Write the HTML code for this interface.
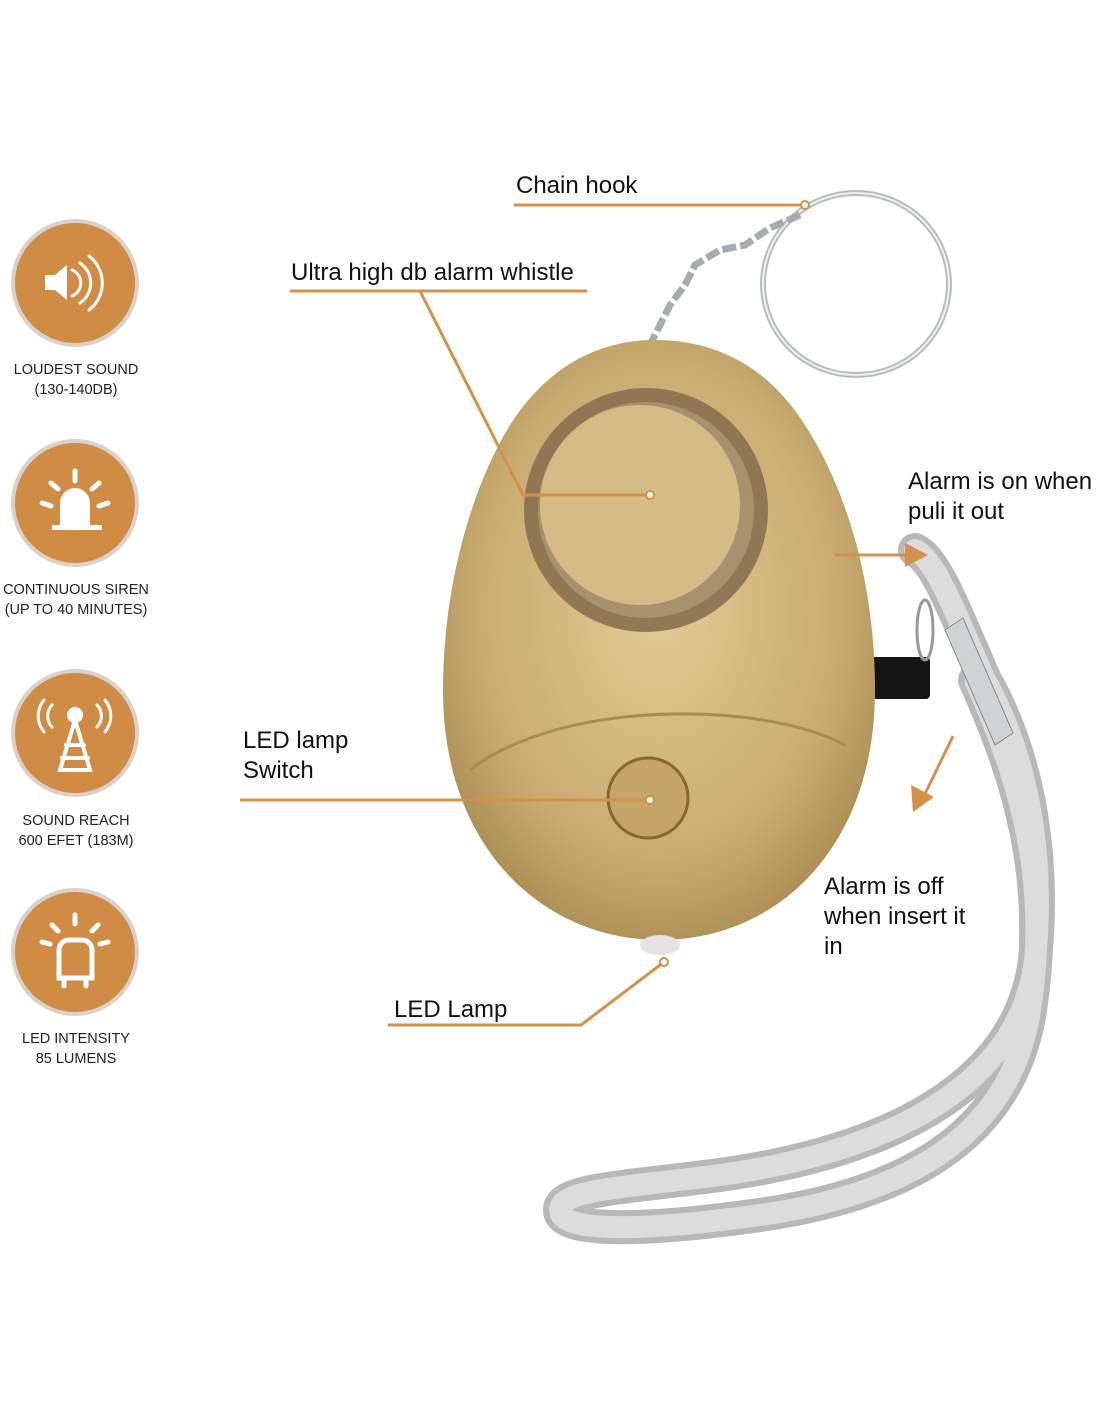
<!DOCTYPE html>
<html><head><meta charset="utf-8"><style>
html,body{margin:0;padding:0;background:#fff}
svg{display:block}
text{font-family:"Liberation Sans",sans-serif}
</style></head><body>
<svg width="1100" height="1422" viewBox="0 0 1100 1422">
<defs>
<radialGradient id="egg" cx="0.5" cy="0.45" r="0.6">
<stop offset="0" stop-color="#e2cc95"/><stop offset="0.7" stop-color="#c8ab70"/><stop offset="1" stop-color="#a88a50"/>
</radialGradient>
</defs>
<g fill="#d08b45" stroke="#d9d2cb" stroke-width="4">
<circle cx="75" cy="283" r="62"/><circle cx="75" cy="503" r="62"/><circle cx="75" cy="733" r="62"/><circle cx="75" cy="952" r="62"/>
</g>
<g fill="#fff" stroke="#fff" stroke-linecap="round">
<path d="M45 275h10l12-10v35l-12-10h-10z" stroke="none"/>
<path d="M72 270a14 14 0 0 1 0 26" fill="none" stroke-width="3"/>
<path d="M80 263a24 24 0 0 1 0 40" fill="none" stroke-width="3"/>
<path d="M89 256a34 34 0 0 1 0 54" fill="none" stroke-width="3"/>
<path d="M60 525v-22a15 15 0 0 1 30 0v22z" stroke="none"/>
<rect x="52" y="525" width="50" height="5" stroke="none"/>
<g stroke-width="5"><path d="M75 471v10M51 483l7 6M99 483l-7 6M42 503l9 3M108 503l-9 3"/></g>
<circle cx="75" cy="715" r="8" stroke="none"/>
<path d="M75 720L60 770h30z" fill="none" stroke-width="4"/>
<path d="M66 745h18M62 758h26" stroke-width="4"/>
<path d="M52 705a16 16 0 0 0 0 22M97 705a16 16 0 0 1 0 22M44 700a25 25 0 0 0 0 32M105 700a25 25 0 0 1 0 32" fill="none" stroke-width="3"/>
<path d="M59 978v-28a10 10 0 0 1 10-10h13a10 10 0 0 1 10 10v28z" fill="none" stroke-width="5"/>
<path d="M64 978v8M86 978v8" stroke-width="5"/>
<g stroke-width="5"><path d="M75 915v9M52 925l6 6M98 925l-6 6M42 942l8 2M108 942l-8 2"/></g>
</g>
<g font-size="14.5" fill="#222" text-anchor="middle">
<text x="76" y="374">LOUDEST SOUND</text><text x="76" y="394">(130-140DB)</text>
<text x="76" y="594">CONTINUOUS SIREN</text><text x="76" y="614">(UP TO 40 MINUTES)</text>
<text x="76" y="825">SOUND REACH</text><text x="76" y="845">600 EFET (183M)</text>
<text x="76" y="1043">LED INTENSITY</text><text x="76" y="1063">85 LUMENS</text>
</g>
<ellipse cx="856" cy="284" rx="93" ry="91" fill="none" stroke="#b8bcc0" stroke-width="6"/>
<ellipse cx="856" cy="284" rx="93" ry="91" fill="none" stroke="#eef0f2" stroke-width="2"/>
<path d="M800 215L770 228L745 245L720 250L695 265L685 285L670 305L660 325L650 345" fill="none" stroke="#a8acb0" stroke-width="7" stroke-dasharray="14 4"/>
<g fill="none" stroke-linecap="round">
<path d="M915 550C935 560 950 600 985 680C1030 760 1045 860 1035 960C1020 1080 900 1150 720 1175C620 1188 560 1190 560 1210C560 1232 640 1232 760 1215C900 1195 1010 1140 1030 1010C1050 880 1020 780 975 680" stroke="#b8b8b8" stroke-width="34"/>
<path d="M915 550C935 560 950 600 985 680C1030 760 1045 860 1035 960C1020 1080 900 1150 720 1175C620 1188 560 1190 560 1210C560 1232 640 1232 760 1215C900 1195 1010 1140 1030 1010C1050 880 1020 780 975 680" stroke="#dcdcdc" stroke-width="22" stroke-dasharray="3 3"/>
</g>
<path d="M945 630l18-12 50 115-18 12z" fill="#d0d3d6" stroke="#888" stroke-width="1"/>
<rect x="868" y="657" width="62" height="42" rx="4" fill="#141414"/>
<ellipse cx="925" cy="630" rx="8" ry="30" fill="none" stroke="#999" stroke-width="3"/>
<path d="M655 340C720 340 770 370 805 425C850 495 875 590 875 690C875 850 775 940 660 940C545 940 443 850 443 690C443 590 470 490 510 425C545 370 595 340 655 340Z" fill="url(#egg)"/>
<ellipse cx="646" cy="510" rx="122" ry="122" fill="#8a7050" opacity="0.9"/>
<ellipse cx="646" cy="510" rx="108" ry="108" fill="#a8916e"/>
<ellipse cx="640" cy="505" rx="100" ry="100" fill="#d5bb86"/>
<path d="M470 770C560 700 760 700 845 745" fill="none" stroke="#a88c55" stroke-width="3"/>
<circle cx="648" cy="798" r="40" fill="#c5a66a" stroke="#86682f" stroke-width="3"/>
<ellipse cx="660" cy="945" rx="20" ry="10" fill="#e8e2e4"/>
<g stroke="#d4914a" stroke-width="3" fill="none">
<path d="M514 205H805"/>
<path d="M290 291H587M420 291L523 495H650"/>
<path d="M240 800H650"/>
<path d="M388 1025H581L664 962"/>
<path d="M835 555H912"/>
<path d="M953 736L922 800"/>
</g>
<path d="M905 543L928 555L905 567Z" fill="#d4914a"/>
<path d="M913 812L911 785L934 797Z" fill="#d4914a"/>
<g fill="#fff" stroke="#d4914a" stroke-width="2">
<circle cx="805" cy="205" r="4"/><circle cx="650" cy="495" r="4"/><circle cx="650" cy="800" r="4"/><circle cx="664" cy="962" r="4"/>
</g>
<g font-size="24" fill="#111">
<text x="516" y="193">Chain hook</text>
<text x="291" y="280">Ultra high db alarm whistle</text>
<text x="243" y="748">LED lamp</text><text x="243" y="778">Switch</text>
<text x="394" y="1017">LED Lamp</text>
<text x="908" y="489">Alarm is on when</text><text x="908" y="519">puli it out</text>
<text x="824" y="894">Alarm is off</text><text x="824" y="924">when insert it</text><text x="824" y="954">in</text>
</g>
</svg>
</body></html>
